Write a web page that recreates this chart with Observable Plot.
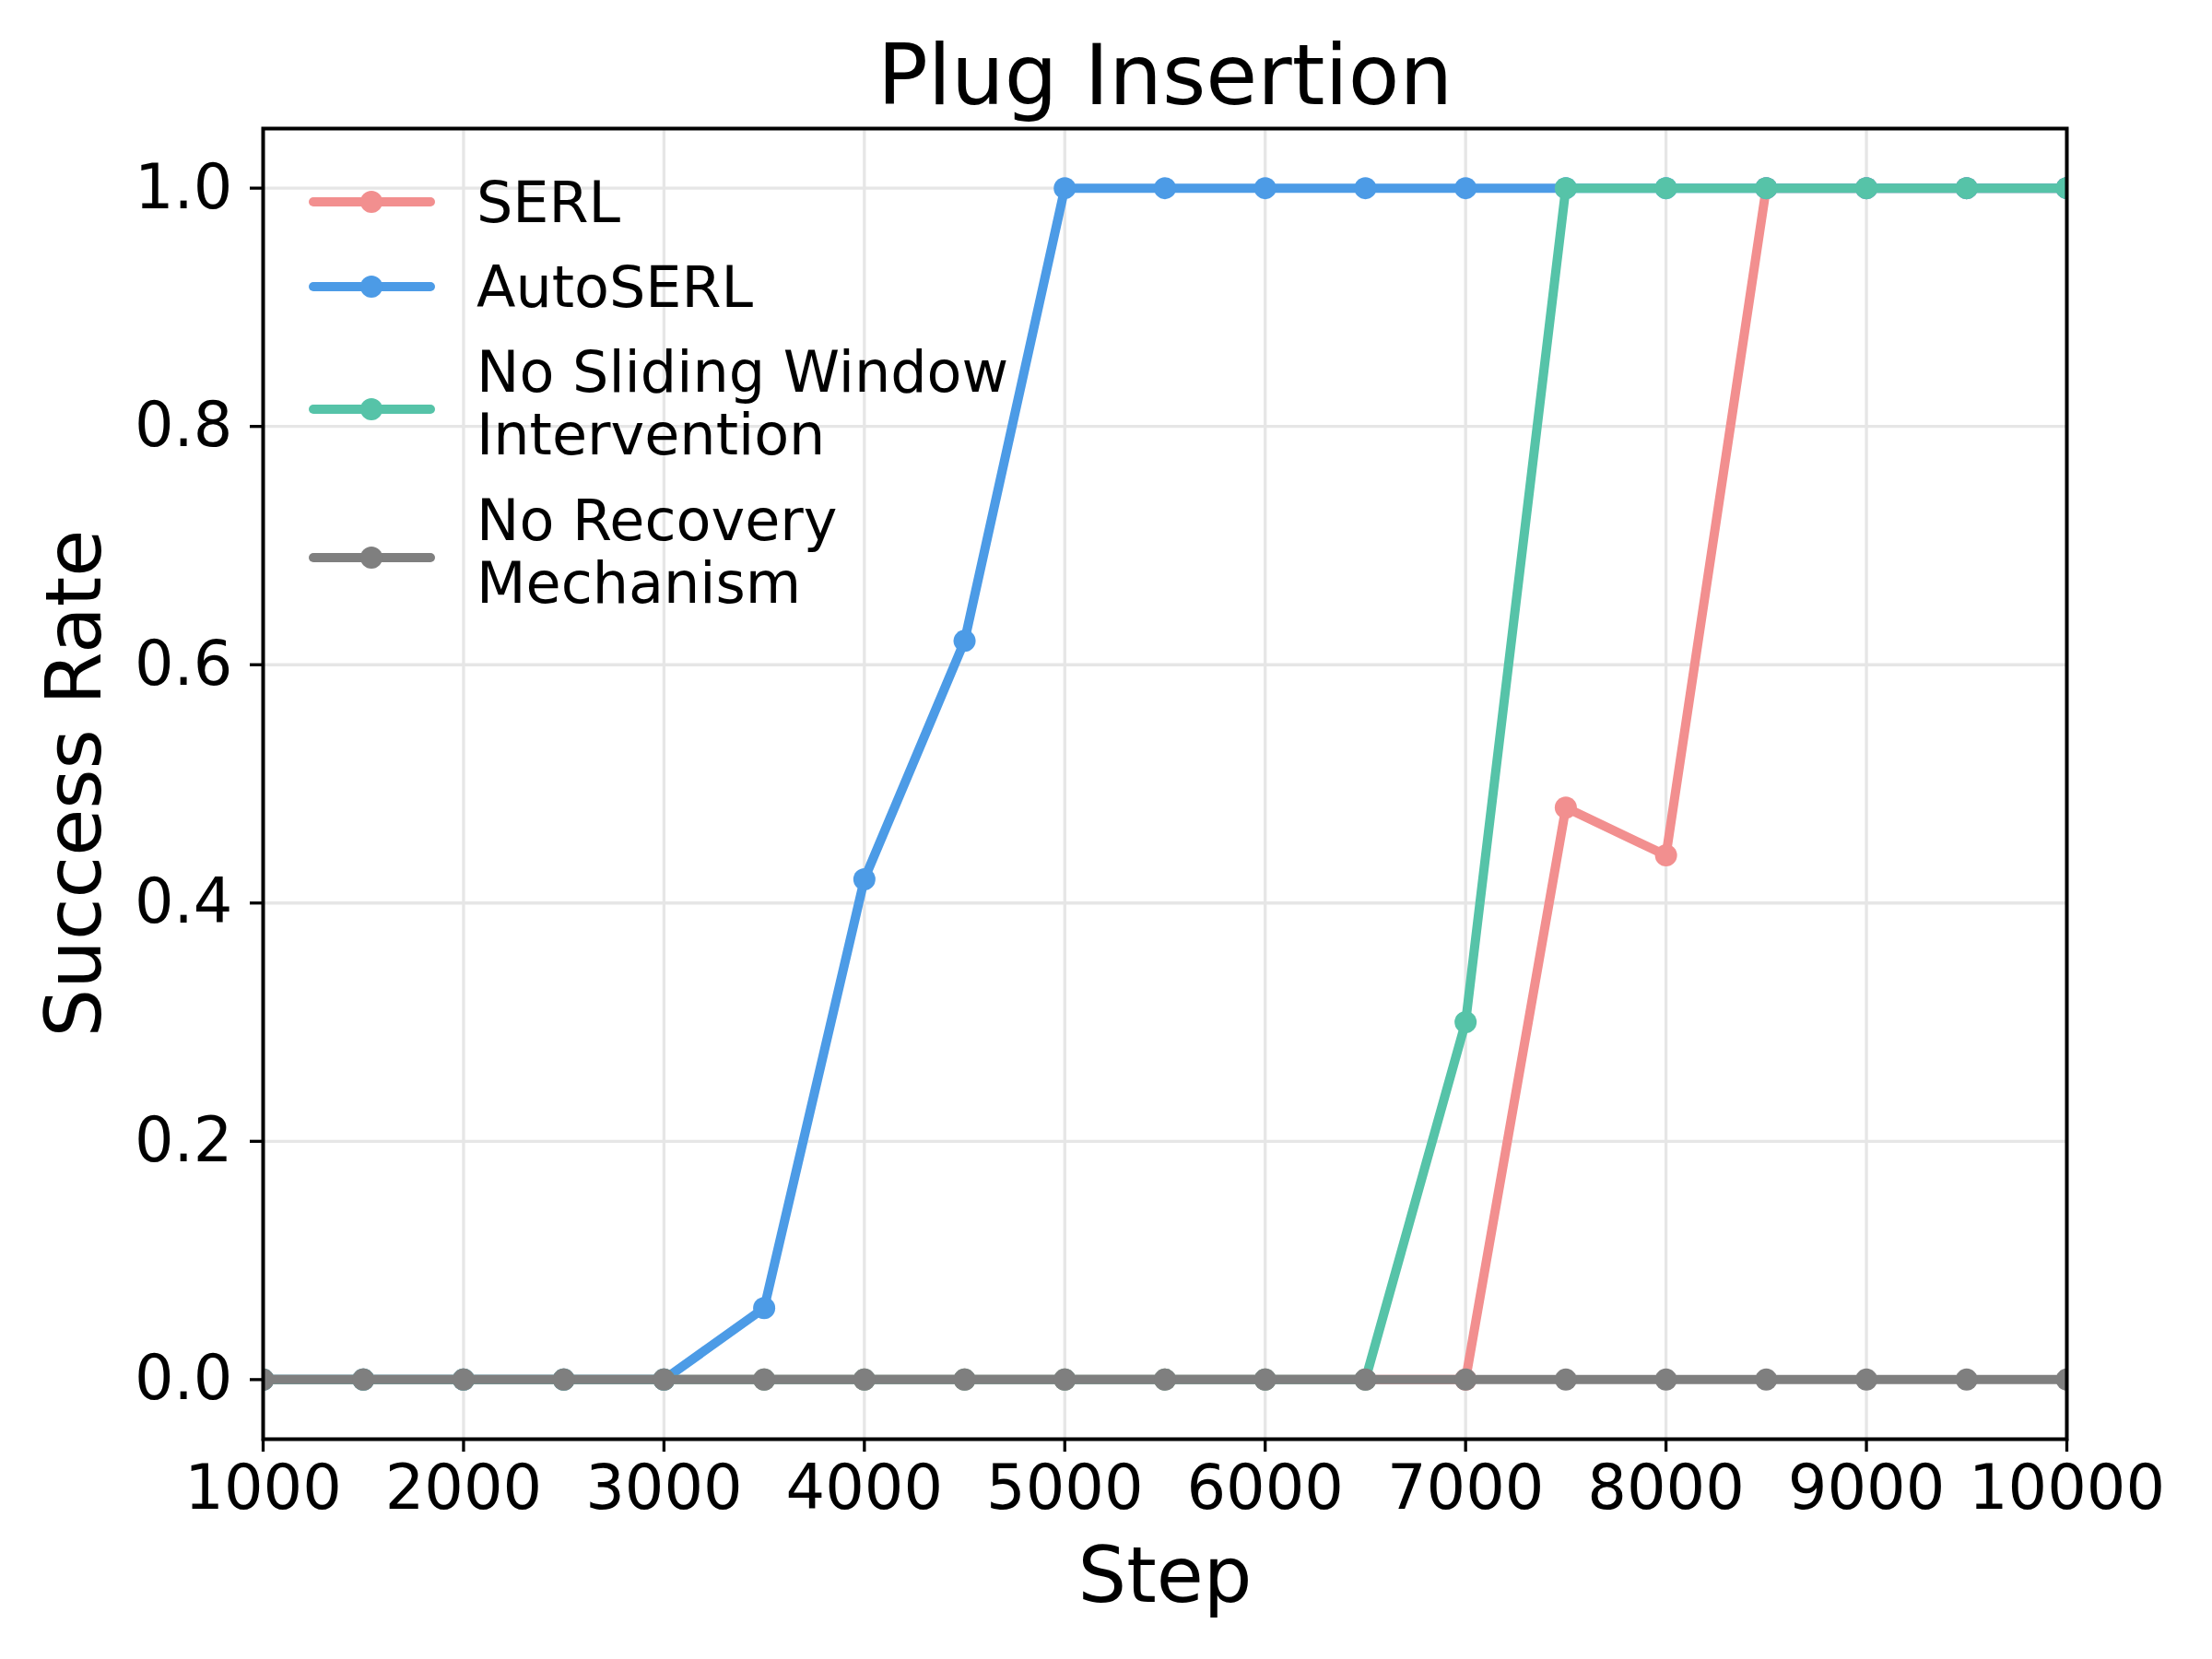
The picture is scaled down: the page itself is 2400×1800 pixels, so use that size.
<!DOCTYPE html>
<html><head><meta charset="utf-8">
<script src="https://cdn.jsdelivr.net/npm/d3@7"></script>
<script src="https://cdn.jsdelivr.net/npm/@observablehq/plot@0.6"></script>
<style>body{margin:0;background:#fff}</style>
</head><body><div id="chart"></div>
<script>
const steps = [1000,1500,2000,2500,3000,3500,4000,4500,5000,5500,6000,6500,7000,7500,8000,8500,9000,9500,10000];
const seriesNames = ["SERL","AutoSERL","No Sliding Window\nIntervention","No Recovery\nMechanism"];
const seriesColors = ["#F28F8F","#4C9BE6","#56C3A8","#7F7F7F"];
const serl       = [0,0,0,0,0,0,0,0,0,0,0,0,0,0.48,0.44,1,1,1,1];
const autoserl   = [0,0,0,0,0,0.06,0.42,0.62,1,1,1,1,1,1,1,1,1,1,1];
const noSliding  = [0,0,0,0,0,0,0,0,0,0,0,0,0.30,1,1,1,1,1,1];
const noRecovery = [0,0,0,0,0,0,0,0,0,0,0,0,0,0,0,0,0,0,0];
const xTicks = [1000,2000,3000,4000,5000,6000,7000,8000,9000,10000];
const yTicks = [0,0.2,0.4,0.6,0.8,1.0];
const titleText = "Plug Insertion";
const xLabel = "Step";
const yLabel = "Success Rate";

const allValues = [serl, autoserl, noSliding, noRecovery];
const seriesMarks = [];
allValues.forEach((vals, i) => {
  const rows = steps.map((s, j) => ({step: s, value: vals[j]}));
  seriesMarks.push(Plot.line(rows, {x: "step", y: "value", stroke: seriesColors[i], strokeWidth: 10, strokeLinejoin: "round", strokeLinecap: "round", clip: true}));
  seriesMarks.push(Plot.dot(rows, {x: "step", y: "value", fill: seriesColors[i], r: 12, stroke: "none", clip: true}));
});

const mL = 285, mR = 158, mT = 139, mB = 239, W = 2400, H = 1800;
const chart = Plot.plot({
  width: W, height: H,
  marginLeft: mL, marginRight: mR, marginTop: mT, marginBottom: mB,
  style: {fontFamily: "DejaVu Sans", background: "white", color: "black", overflow: "visible"},
  x: {domain: [1000, 10000]},
  y: {domain: [-0.05, 1.05]},
  marks: [
    Plot.gridX(xTicks, {stroke: "#e6e6e6", strokeOpacity: 1, strokeWidth: 3.3}),
    Plot.gridY(yTicks, {stroke: "#e6e6e6", strokeOpacity: 1, strokeWidth: 3.3}),
    ...seriesMarks,
    Plot.frame({stroke: "black", strokeWidth: 4}),
    Plot.axisX(xTicks, {tickSize: 14, tickPadding: 14, fontSize: 67, tickFormat: d => String(d), label: null, strokeWidth: 3.3, stroke: "black", fill: "black"}),
    Plot.axisY(yTicks, {tickSize: 14, tickPadding: 19, fontSize: 67, tickFormat: d => d.toFixed(1), label: null, strokeWidth: 3.3, stroke: "black", fill: "black"}),
    Plot.text([titleText], {text: d => d, frameAnchor: "top", dy: -56, fontSize: 91, fill: "black", lineAnchor: "middle"}),
    Plot.text([xLabel], {text: d => d, frameAnchor: "bottom", dy: 150, fontSize: 83, fill: "black", lineAnchor: "middle"})
  ]
});
document.getElementById("chart").appendChild(chart);

const svg = d3.select(chart);
// Y axis label
svg.append("text")
  .attr("transform", `translate(80,${(mT + (H - mB)) / 2}) rotate(-90)`)
  .attr("text-anchor", "middle").attr("dominant-baseline", "central")
  .attr("font-family", "DejaVu Sans").attr("font-size", 83).attr("fill", "black")
  .text(yLabel);

// Legend (upper left, inside the frame)
const legendRows = [219, 311, 444, 605];
const lg = svg.append("g").attr("font-family", "DejaVu Sans").attr("font-size", 62).attr("text-anchor", "start");
seriesNames.forEach((name, i) => {
  const y = legendRows[i];
  const g = lg.append("g");
  g.append("line").attr("x1", 340).attr("x2", 467).attr("y1", y).attr("y2", y)
    .attr("stroke", seriesColors[i]).attr("stroke-width", 10).attr("stroke-linecap", "round");
  g.append("circle").attr("cx", 403).attr("cy", y).attr("r", 12).attr("fill", seriesColors[i]);
  const lines = name.split("\n");
  const lh = 68;
  const shift = lines.length > 1 ? -7 : 0;
  lines.forEach((t, k) => {
    g.append("text").attr("x", 517).attr("y", y + shift + (k - (lines.length - 1) / 2) * lh)
      .attr("dominant-baseline", "central").attr("text-anchor", "start").attr("fill", "black").text(t);
  });
});
</script>
</body></html>
